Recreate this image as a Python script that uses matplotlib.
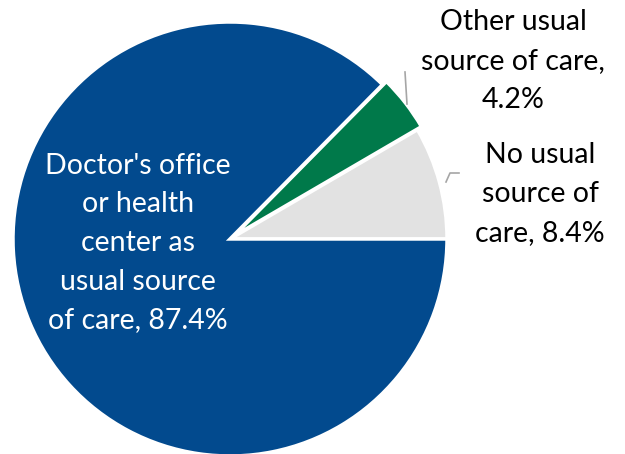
import matplotlib
matplotlib.use("Agg")
import matplotlib.pyplot as plt

# share of people by usual source of care
labels = ["No usual\nsource of\ncare", "Other usual\nsource of care,\n", "Doctor's office\nor health\ncenter as\nusual source\nof care"]
values = [8.4, 4.2, 87.4]
colors = ["#e2e2e2", "#00794a", "#024a8e"]

plt.rcParams['font.family'] = ['Lato', 'DejaVu Sans']

W, H = 625, 454
fig = plt.figure(figsize=(W / 100, H / 100), dpi=100)
ax = fig.add_axes([0, 0, 1, 1])

cx, cy, r = 230, H - 239, 217
ax.pie(values, colors=colors, startangle=0, counterclock=True,
       center=(cx, cy), radius=r, explode=[0, 5, 0],
       wedgeprops=dict(edgecolor='white', linewidth=2.5),
       frame=True)
ax.set_xlim(0, W)
ax.set_ylim(0, H)
ax.set_aspect('equal')
ax.axis('off')

def label_text(i):
    sep = '' if labels[i].endswith('\n') else ', '
    return "%s%s%.1f%%" % (labels[i], sep, values[i])

fs = 20.5
ls = 1.6
# big slice label inside the pie
ax.text(138, H - 243, label_text(2), ha='center', va='center', color='white',
        fontsize=fs, linespacing=ls)

# small slices labelled outside with leader lines
ax.text(513, H - 61, label_text(1), ha='center', va='center', color='black',
        fontsize=fs, linespacing=ls)
ax.plot([405, 407], [H - 72, H - 104], color='#a6a6a6', lw=1.2)

ax.text(540, H - 194, label_text(0), ha='center', va='center', color='black',
        fontsize=fs, linespacing=ls)
ax.plot([459, 450, 446], [H - 173, H - 173, H - 182], color='#a6a6a6', lw=1.2)

fig.savefig("out.png", dpi=100)
